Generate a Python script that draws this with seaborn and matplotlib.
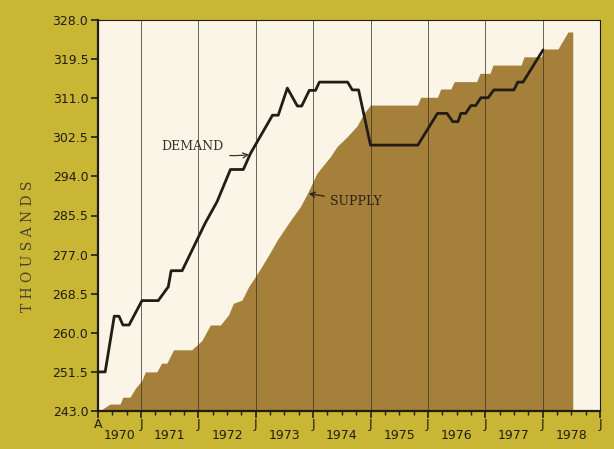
import matplotlib
matplotlib.use("Agg")
import matplotlib.pyplot as plt
import matplotlib.transforms as mtransforms
import numpy as np
import pandas as pd
import seaborn as sns

# Months counted from the first April on the axis
demand_month = [0.0, 1.5, 3.4, 4.4, 5.2, 6.5, 9.2, 12.6, 14.7, 15.3, 17.6, 22.4, 24.9,
                27.7, 30.4, 31.9, 36.5, 37.7, 39.6, 41.7, 42.6, 44.2, 45.5, 46.3,
                52.2, 53.2, 54.5, 57.0, 66.9, 71.0, 73.0, 74.2, 75.3, 75.9, 76.9,
                78.0, 79.0, 80.1, 81.6, 82.8, 87.0, 87.8, 88.9, 93.1]
demand_value = [251.5, 251.5, 263.6, 263.6, 261.7, 261.7, 267.0, 267.0, 270.0, 273.5,
                273.5, 283.8, 288.5, 295.5, 295.5, 299.0, 307.3, 307.3, 313.2, 309.3,
                309.3, 312.7, 312.7, 314.5, 314.5, 312.8, 312.8, 300.8, 300.8, 307.7,
                307.7, 305.9, 305.9, 307.7, 307.7, 309.4, 309.4, 311.1, 311.1, 312.8,
                312.8, 314.5, 314.5, 321.5]

supply_month = [0.3, 2.5, 4.6, 5.2, 6.7, 7.8, 9.2, 9.9, 12.3, 13.3, 14.4, 15.8, 19.6,
                21.7, 23.5, 25.6, 27.3, 28.3, 30.1, 31.5, 32.9, 34.0, 35.7, 37.5,
                40.3, 42.3, 43.8, 45.8, 48.6, 50.0, 52.1, 54.2, 55.6, 57.0, 66.8,
                67.5, 71.0, 71.7, 73.8, 74.5, 79.2, 79.9, 82.0, 82.6, 88.5, 89.1,
                92.7, 93.3, 96.2, 98.3, 99.3]
supply_value = [243.0, 244.5, 244.5, 246.0, 246.0, 247.9, 249.7, 251.5, 251.5, 253.4,
                253.4, 256.3, 256.3, 258.3, 261.7, 261.7, 263.9, 266.4, 267.1, 270.0,
                272.2, 274.0, 276.9, 280.2, 284.5, 287.4, 290.3, 294.7, 298.3, 300.5,
                302.6, 305.0, 307.7, 309.5, 309.5, 311.2, 311.2, 313.0, 313.0, 314.6,
                314.6, 316.4, 316.4, 318.2, 318.2, 320.0, 320.0, 321.7, 321.7, 325.4,
                325.4]

y_ticks = [243.0, 251.5, 260.0, 268.5, 277.0, 285.5, 294.0, 302.5, 311.0, 319.5, 328.0]
x_major = [0, 9, 21, 33, 45, 57, 69, 81, 93, 105]
x_major_labels = ["A", "J", "J", "J", "J", "J", "J", "J", "J", "J"]
years = ["1970", "1971", "1972", "1973", "1974", "1975", "1976", "1977", "1978"]

OUTER = "#c8b634"
PAPER = "#fbf5e7"
FILL = "#a4803a"
INK = "#221d14"

sns.set_theme(style="white")
plt.rcParams["font.family"] = ["DejaVu Sans"]

fig = plt.figure(figsize=(6.14, 4.49), dpi=100, facecolor=OUTER)
ax = fig.add_axes([98 / 614, 1 - 411 / 449, 502 / 614, 391 / 449])
ax.set_facecolor(PAPER)

supply = pd.DataFrame({"month": supply_month, "value": supply_value})
demand = pd.DataFrame({"month": demand_month, "value": demand_value})

# Supply as a filled stepped area
ax.fill_between(supply["month"], supply["value"], 243.0, color=FILL, lw=0, zorder=1)

# Year boundaries
for m in x_major[1:-1]:
    ax.axvline(m, color="#3c3222", lw=0.7, alpha=0.75, zorder=2)

sns.lineplot(data=demand, x="month", y="value", color=INK, lw=2.0, ax=ax,
             zorder=3, sort=False)

ax.set_xlim(0, 105)
ax.set_ylim(243.0, 328.0)

ax.set_yticks(y_ticks)
ax.set_yticklabels([f"{v:.1f}" for v in y_ticks], fontsize=9, color=INK)
ax.set_xticks(x_major)
ax.set_xticklabels(x_major_labels, fontsize=9, color=INK)
ax.set_xticks(np.arange(0, 106, 3), minor=True)
ax.tick_params(axis="y", which="major", direction="out", length=5, width=1.2,
               color=INK, pad=2, left=True)
ax.tick_params(axis="x", which="major", direction="out", length=5, width=1.2,
               color=INK, pad=0, bottom=True)
ax.tick_params(axis="x", which="minor", direction="out", length=3, width=1.0,
               color=INK, bottom=True)

for side in ["left", "bottom"]:
    ax.spines[side].set_color(INK)
    ax.spines[side].set_linewidth(1.6)
for side in ["top", "right"]:
    ax.spines[side].set_color(INK)
    ax.spines[side].set_linewidth(0.8)

ax.set_xlabel("")
ax.set_ylabel("T H O U S A N D S", fontsize=10, color="#4a4030",
              family="DejaVu Serif")
ax.yaxis.set_label_coords(-0.125, 0.42)

# Fiscal-year labels centred between boundaries
trans = mtransforms.blended_transform_factory(ax.transData, ax.transAxes)
for i, yr in enumerate(years):
    centre = (x_major[i] + x_major[i + 1]) / 2
    ax.text(centre, -0.045, yr, transform=trans, ha="center", va="top",
            fontsize=9, color=INK)

ax.annotate("DEMAND", xy=(31.9, 298.8), xytext=(19.8, 300.5),
            fontsize=9, color="#3a3328", family="DejaVu Serif",
            ha="center", va="center",
            arrowprops=dict(arrowstyle="->", color="#3a3328", lw=0.9,
                            shrinkA=2, shrinkB=1, connectionstyle="arc3,rad=0.15"),
            zorder=4)
ax.annotate("SUPPLY", xy=(43.8, 290.3), xytext=(48.6, 288.6),
            fontsize=9, color="#2a2418", family="DejaVu Serif",
            ha="left", va="center",
            arrowprops=dict(arrowstyle="->", color="#2a2418", lw=0.9,
                            shrinkA=2, shrinkB=1),
            zorder=4)

fig.savefig("out.png", dpi=100, facecolor=OUTER)
